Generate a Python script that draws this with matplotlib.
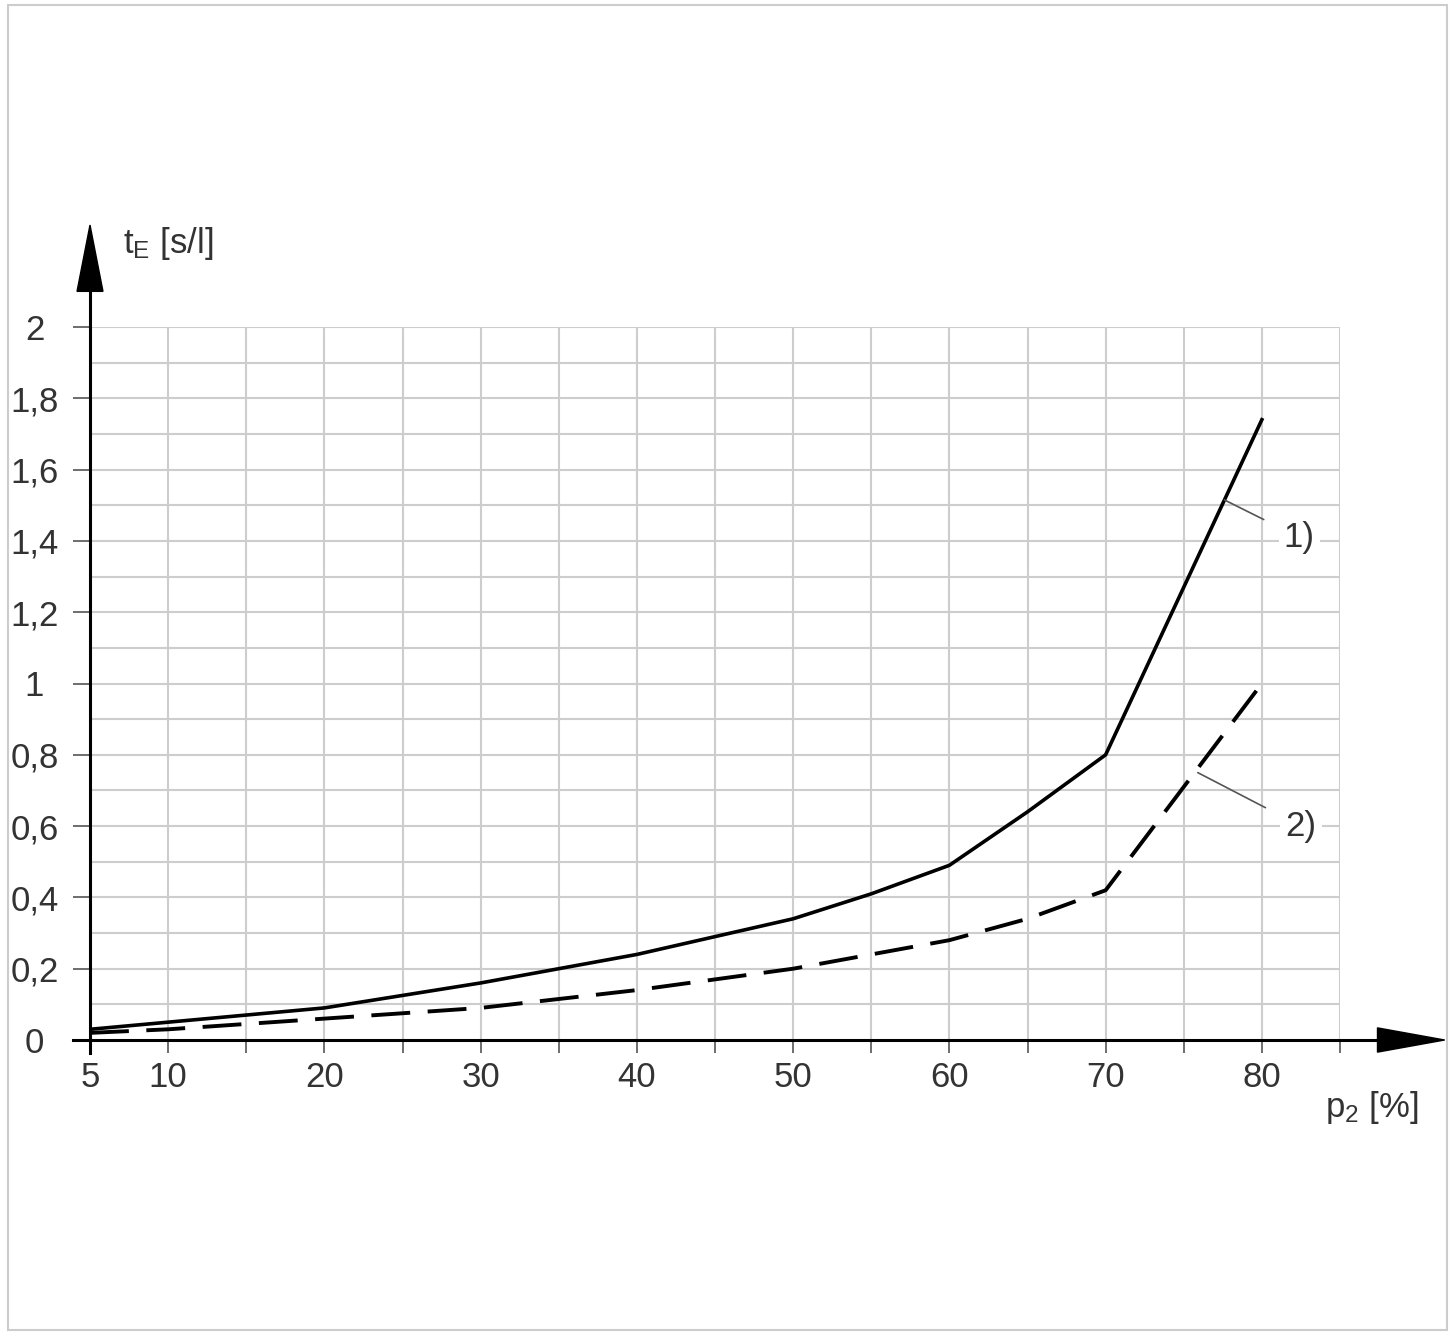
import matplotlib
matplotlib.use("Agg")
import matplotlib.pyplot as plt
from matplotlib.patches import Rectangle, Polygon

plt.rcParams["font.family"] = ["Liberation Sans", "DejaVu Sans"]
plt.rcParams["mathtext.fontset"] = "custom"
plt.rcParams["mathtext.rm"] = "Liberation Sans"
plt.rcParams["mathtext.it"] = "Liberation Sans"

# data
p2 = [5, 10, 20, 25, 30, 35, 40, 45, 50, 55, 60, 65, 70, 80]
te_1 = [0.03, 0.05, 0.09, 0.125, 0.16, 0.20, 0.24, 0.29, 0.34, 0.41, 0.49, 0.64, 0.80, 1.74]
te_2 = [0.02, 0.03, 0.06, 0.075, 0.09, 0.115, 0.14, 0.17, 0.20, 0.24, 0.28, 0.34, 0.42, 1.00]

x_ticks = [5, 10, 20, 30, 40, 50, 60, 70, 80]
y_ticks = [0, 0.2, 0.4, 0.6, 0.8, 1, 1.2, 1.4, 1.6, 1.8, 2]
y_labels = ["0", "0,2", "0,4", "0,6", "0,8", "1", "1,2", "1,4", "1,6", "1,8", "2"]

text_col = "#333333"
grid_col = "#cdcdcd"

fig = plt.figure(figsize=(14.55, 13.33), dpi=100)
ax = fig.add_axes([90 / 1455, 293 / 1333, 1250 / 1455, 713 / 1333])
ax.set_xlim(5, 85)
ax.set_ylim(0, 2)
for s in ax.spines.values():
    s.set_visible(False)

# grid every 5 % and every 0.1 s/l
for gx in range(5, 90, 5):
    ax.axvline(gx, color=grid_col, lw=1.5, zorder=1)
for i in range(1, 21):
    ax.axhline(i * 0.1, color=grid_col, lw=1.5, zorder=1)

# ticks
ax.set_xticks(list(range(5, 90, 5)))
ax.set_xticklabels([str(v) if v in x_ticks else "" for v in range(5, 90, 5)])
ax.set_yticks(y_ticks)
ax.set_yticklabels(y_labels, ha="center")
ax.tick_params(axis="x", direction="out", length=9, width=1.2, color="#555555",
               labelsize=25, labelcolor=text_col, pad=6)
ax.tick_params(axis="y", direction="out", length=12, width=1.2, color="#555555",
               labelsize=25, labelcolor=text_col, pad=28)

# axes with arrows
ax.plot([3.9, 87.6], [0, 0], color="black", lw=2.2, clip_on=False, zorder=4)
ax.plot([5, 5], [-0.037, 2.12], color="black", lw=2.2, clip_on=False, zorder=4)
ax.add_patch(Polygon([[87.4, 0.034], [91.7, 0], [87.4, -0.034]], closed=True,
                     color="black", clip_on=False, zorder=5))
ax.add_patch(Polygon([[4.17, 2.10], [5, 2.286], [5.83, 2.10]], closed=True,
                     color="black", clip_on=False, zorder=5))

# curves
ax.plot(p2, te_1, color="black", lw=2.6, zorder=3, solid_joinstyle="round")
ax.plot(p2, te_2, color="black", lw=2.8, zorder=3, dashes=(10, 4.5))

# curve labels with leaders
box = dict(boxstyle="square,pad=0.15", facecolor="white", edgecolor="none")
ax.annotate("1)", xy=(77.6, 1.515), xytext=(82.4, 1.41), fontsize=25, color=text_col,
            ha="center", va="center", bbox=box, zorder=6,
            arrowprops=dict(arrowstyle="-", color="#555555", lw=1.2,
                            shrinkA=12, shrinkB=0))
ax.annotate("2)", xy=(75.9, 0.75), xytext=(82.5, 0.60), fontsize=25, color=text_col,
            ha="center", va="center", bbox=box, zorder=6,
            arrowprops=dict(arrowstyle="-", color="#555555", lw=1.2,
                            shrinkA=12, shrinkB=0))

# axis titles
ax.text(7.1, 2.235, r"t$_\mathrm{E}$ [s/l]", fontsize=25, color=text_col,
        ha="left", va="center", clip_on=False)
ax.text(90.0, -0.19, r"p$_\mathrm{2}$ [%]", fontsize=25, color=text_col,
        ha="right", va="center", clip_on=False)

# outer frame
fig.add_artist(Rectangle((8 / 1455, 3 / 1333), 1439 / 1455, 1325 / 1333,
                         transform=fig.transFigure, fill=False,
                         edgecolor="#cccccc", lw=1.5))

fig.savefig("out.png", dpi=100, facecolor="white")
